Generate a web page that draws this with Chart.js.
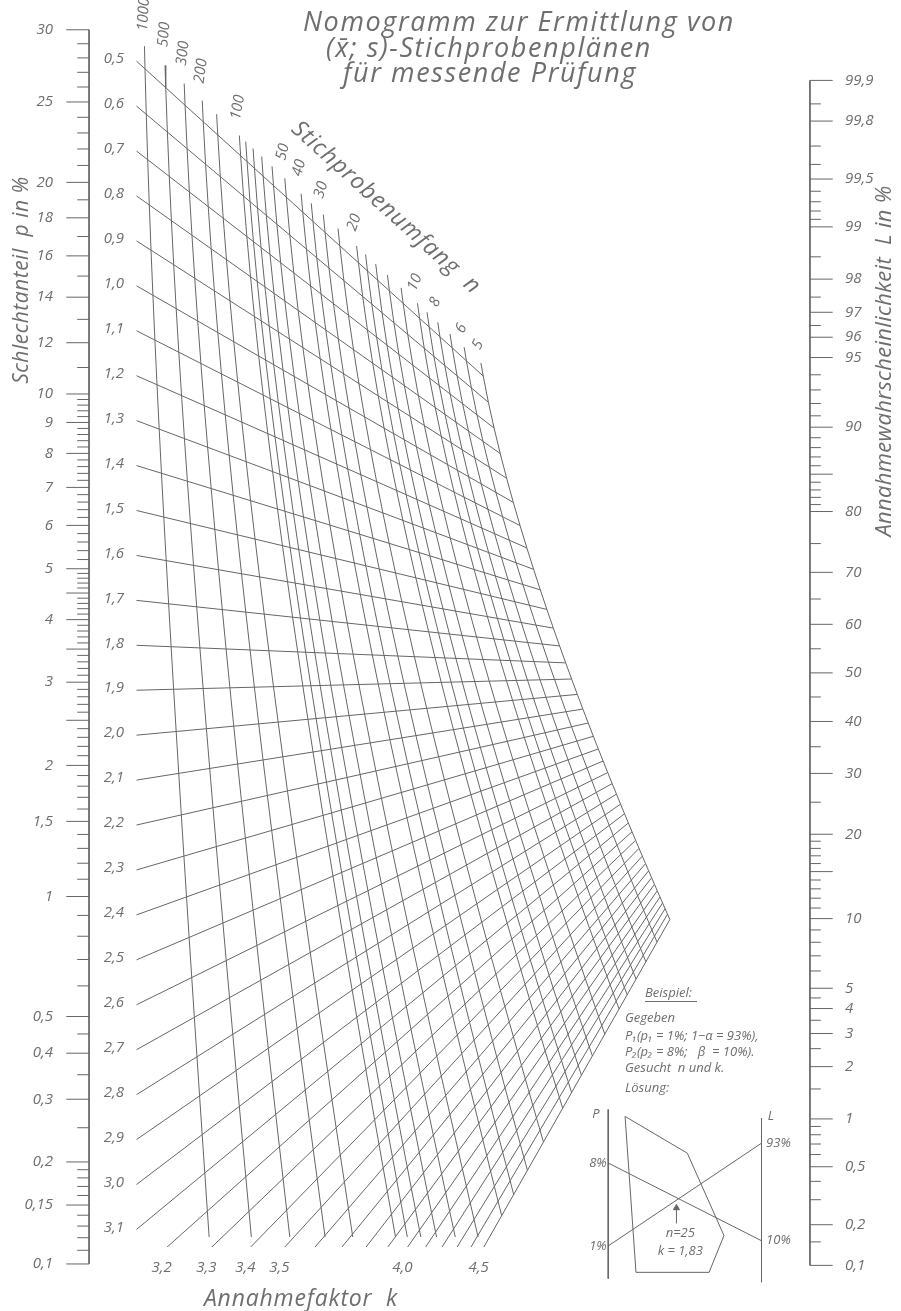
<!DOCTYPE html>
<html>
<head>
<meta charset="utf-8">
<script src="https://cdn.jsdelivr.net/npm/chart.js@4.4.1/dist/chart.umd.min.js"></script>
<style>
  html, body { margin: 0; background: #fff; }
  canvas { display: block; }
</style>
</head>
<body>
<canvas id="nomo" width="901" height="1311"></canvas>
<script>
// Annahmefaktor k (one straight line per value)
const kValues = [0.5, 0.6, 0.7, 0.8, 0.9, 1.0, 1.1, 1.2, 1.3, 1.4, 1.5, 1.6, 1.7, 1.8, 1.9, 2.0,
  2.1, 2.2, 2.3, 2.4, 2.5, 2.6, 2.7, 2.8, 2.9, 3.0, 3.1, 3.2, 3.3, 3.4, 3.5, 3.6, 3.7, 3.8, 3.9,
  4.0, 4.1, 4.2, 4.3, 4.4, 4.5];
const kLeftLabels = [0.5, 0.6, 0.7, 0.8, 0.9, 1.0, 1.1, 1.2, 1.3, 1.4, 1.5, 1.6, 1.7, 1.8, 1.9,
  2.0, 2.1, 2.2, 2.3, 2.4, 2.5, 2.6, 2.7, 2.8, 2.9, 3.0, 3.1];
const kBottomLabels = [3.2, 3.3, 3.4, 3.5, 4.0, 4.5];

// Stichprobenumfang n (one curve per value)
const nValues = [1000, 500, 300, 200, 150, 100, 90, 80, 70, 60, 50, 40, 35, 30, 25, 20, 18, 16,
  14, 12, 10, 9, 8, 7, 6, 5];
const nLabels = [1000, 500, 300, 200, 100, 50, 40, 30, 20, 10, 8, 6, 5];

// Schlechtanteil p in % (left scale)
const pMajor = [30, 25, 20, 18, 16, 14, 12, 10, 9, 8, 7, 6, 5, 4, 3, 2, 1.5, 1, 0.5, 0.4, 0.3,
  0.2, 0.15, 0.1];
const pMedium = [4.5, 3.5, 2.5];
const pMinor = [29, 28, 27, 26, 24, 23, 22, 21, 19, 17, 15, 13, 11,
  9.8, 9.6, 9.4, 9.2, 8.8, 8.6, 8.4, 8.2, 7.8, 7.6, 7.4, 7.2, 6.8, 6.6, 6.4, 6.2,
  5.8, 5.6, 5.4, 5.2, 4.9, 4.8, 4.7, 4.6, 4.4, 4.3, 4.2, 4.1,
  3.9, 3.8, 3.7, 3.6, 3.4, 3.3, 3.2, 3.1, 2.9, 2.8, 2.7, 2.6, 2.4, 2.3, 2.2, 2.1,
  1.9, 1.8, 1.7, 1.6, 1.4, 1.3, 1.2, 1.1, 0.9, 0.8, 0.7, 0.6, 0.45, 0.35, 0.25,
  0.19, 0.18, 0.17, 0.16, 0.14, 0.13, 0.12, 0.11];

// Annahmewahrscheinlichkeit L in % (right scale)
const lMajor = [99.9, 99.8, 99.5, 99, 98, 97, 96, 95, 90, 80, 70, 60, 50, 40, 30, 20, 10, 5, 4,
  3, 2, 1, 0.5, 0.2, 0.1];
const lMedium = [85, 15];
const lMinor = [99.85, 99.7, 99.6, 99.4, 99.3, 99.2, 99.1, 98.5, 97.5, 96.5, 94, 93, 92, 91,
  89, 88, 87, 86, 84, 83, 82, 81, 75, 65, 55, 45, 35, 25, 19, 18, 17, 16, 14, 13, 12, 11,
  9, 8, 7, 6, 4.5, 3.5, 2.5, 1.5, 0.9, 0.8, 0.7, 0.6, 0.4, 0.3, 0.15];

// Beispiel sketch (inset units: P axis x=0, L axis x=100, y 0..100 downwards)
const insetPAxis = [{ x: 0, y: 0 }, { x: 0, y: 98 }];
const insetLAxis = [{ x: 100, y: 5 }, { x: 100, y: 100 }];
const insetLine1 = [{ x: 0, y: 31 }, { x: 100, y: 76 }];     // 8 % -> 10 %
const insetLine2 = [{ x: 0, y: 79 }, { x: 100, y: 19.5 }];   // 1 % -> 93 %
const insetOutline = [{ x: 11, y: 4 }, { x: 51.6, y: 25.3 }, { x: 75.5, y: 73 },
  { x: 65.8, y: 94.3 }, { x: 18.1, y: 94.3 }, { x: 11, y: 4 }];
const insetArrow = [{ x: 44.5, y: 66 }, { x: 44.5, y: 57 }];

// layout of the drawing
const W = 901, H = 1311;
const AXIS_L_PX = 85, AXIS_R_PX = 814;
const SPAN = AXIS_R_PX - AXIS_L_PX;
const PX_PER_U = 484.7;      // left probit scale, px per unit
const TOP_U = 0.47287;       // left-scale value at the top edge
const R_MID = 1.8614;        // L = 50 % expressed on the left scale
const R_RATIO = 0.3986;      // right probit unit / left probit unit
const K_START = 48 / SPAN;   // k lines start left of the n = 1000 curve
const N_TOP = 0.45;          // n curves run a little past k = 0.5
const N_CLIP_PX = 1242, K_CLIP_PX = 1252;

const FONT = "'Open Sans', 'DejaVu Sans', sans-serif";
const INK = '#6e6e6e';
const LINE = '#666666';

// inverse normal distribution (probability paper scales)
function probit(p) {
  const a = [-39.69683028665376, 220.9460984245205, -275.9285104469687, 138.357751867269, -30.66479806614716, 2.506628277459239];
  const b = [-54.47609879822406, 161.5858368580409, -155.6989798598866, 66.80131188771972, -13.28068155288572];
  const c = [-0.007784894002430293, -0.3223964580411365, -2.400758277161838, -2.549732539343734, 4.374664141464968, 2.938163982698783];
  const d = [0.007784695709041462, 0.3224671290700398, 2.445134137142996, 3.754408661907416];
  const lo = 0.02425;
  if (p < lo || p > 1 - lo) {
    const q = Math.sqrt(-2 * Math.log(p < lo ? p : 1 - p));
    const v = (((((c[0] * q + c[1]) * q + c[2]) * q + c[3]) * q + c[4]) * q + c[5]) /
      ((((d[0] * q + d[1]) * q + d[2]) * q + d[3]) * q + 1);
    return p < lo ? v : -v;
  }
  const q = p - 0.5, r = q * q;
  return (((((a[0] * r + a[1]) * r + a[2]) * r + a[3]) * r + a[4]) * r + a[5]) * q /
    (((((b[0] * r + b[1]) * r + b[2]) * r + b[3]) * r + b[4]) * r + 1);
}
const leftU = p => -probit(p / 100);
const rightU = L => R_MID - R_RATIO * probit(L / 100);

// point of the (n, k) net between the two scales
function nomoPoint(n, k) {
  const g = 1 / Math.sqrt(1 / n + k * k / (2 * (n - 1)));
  const t = 1 / (1 + R_RATIO * g);
  return { x: t, y: (1 - t) * k + t * R_MID };
}
const kLineY = (k, t) => (1 - t) * k + t * R_MID;

function ticks(values, toY, x0, x1) {
  const out = [];
  values.forEach(v => {
    const y = toY(v);
    out.push({ x: x0, y }, { x: x1, y }, { x: null, y: null });
  });
  return out;
}

function lineSet(data, extra) {
  return Object.assign({
    data, showLine: true, borderColor: LINE, borderWidth: 1, pointRadius: 0,
    fill: false, tension: 0, clip: false
  }, extra || {});
}

const datasets = [];

// left scale
datasets.push(lineSet([{ x: 0, y: leftU(30) }, { x: 0, y: leftU(0.1) }]));
datasets.push(lineSet(ticks(pMajor.concat(pMedium), leftU, -23 / SPAN, 0)));
datasets.push(lineSet(ticks(pMinor, leftU, -12 / SPAN, 0)));

// right scale
datasets.push(lineSet([{ x: 1, y: rightU(99.9) }, { x: 1, y: rightU(0.1) }]));
datasets.push(lineSet(ticks(lMajor.concat(lMedium), rightU, 1, 1 + 23 / SPAN)));
datasets.push(lineSet(ticks(lMinor, rightU, 1, 1 + 11 / SPAN)));

// k lines
const nMin = nValues[nValues.length - 1];
kValues.forEach(k => {
  datasets.push(lineSet([{ x: K_START, y: kLineY(k, K_START) }, nomoPoint(nMin, k)],
    { clip: { left: false, top: false, right: false, bottom: -(H - K_CLIP_PX) } }));
});

// n curves
nValues.forEach(n => {
  const pts = [nomoPoint(n, N_TOP)].concat(kValues.map(k => nomoPoint(n, k)));
  datasets.push(lineSet(pts,
    { clip: { left: false, top: false, right: false, bottom: -(H - N_CLIP_PX) } }));
});

// example sketch
const inset = { xAxisID: 'x2', yAxisID: 'y2' };
[insetPAxis, insetLAxis, insetLine1, insetLine2, insetOutline, insetArrow].forEach(d => {
  datasets.push(lineSet(d, inset));
});
datasets.push(Object.assign({
  data: [insetArrow[1]], pointStyle: 'triangle', pointRadius: 3.5,
  backgroundColor: LINE, borderColor: LINE, borderWidth: 1, showLine: false, clip: false
}, inset));

const fmt = v => String(v).replace('.', ',');

function text(ctx, s, x, y, size, align, rot, base, spacing) {
  ctx.save();
  ctx.translate(x, y);
  if (rot) ctx.rotate(rot * Math.PI / 180);
  ctx.font = 'italic ' + size + 'px ' + FONT;
  ctx.fillStyle = INK;
  ctx.textAlign = align || 'left';
  ctx.textBaseline = base || 'middle';
  if (spacing) ctx.letterSpacing = spacing;
  ctx.fillText(s, 0, 0);
  ctx.restore();
}

const labelPlugin = {
  id: 'nomoLabels',
  afterDatasetsDraw(chart) {
    const { ctx } = chart;
    const { x, y, x2, y2 } = chart.scales;
    const px = v => x.getPixelForValue(v);
    const py = v => y.getPixelForValue(v);

    // scale labels
    pMajor.forEach(p => text(ctx, fmt(p), 53, py(leftU(p)), 15, 'right'));
    lMajor.forEach(L => text(ctx, fmt(L), 845, py(rightU(L)), 15, 'left'));

    // k labels
    kLeftLabels.forEach(k => {
      text(ctx, fmt(k.toFixed(1)), 124, py(kLineY(k, K_START)) - 2, 15, 'right');
    });
    const clipU = TOP_U + K_CLIP_PX / PX_PER_U;
    kBottomLabels.forEach(k => {
      const t = (k - clipU) / (k - R_MID);
      text(ctx, fmt(k.toFixed(1)), px(t) - 5, 1268, 15, 'center');
    });

    // n labels
    nLabels.forEach(n => {
      const p = nomoPoint(n, 0.38);
      const rot = -86 + (p.x - 0.078) / 0.46 * 24;
      text(ctx, String(n), px(p.x), py(p.y), 15, 'center', rot);
    });

    // titles
    text(ctx, 'Nomogramm zur Ermittlung von', 303, 31, 27, 'left', 0, 'alphabetic', '1.6px');
    text(ctx, '(x\u0304; s)-Stichprobenplänen', 326, 57, 27, 'left', 0, 'alphabetic', '1.6px');
    text(ctx, 'für messende Prüfung', 343, 82, 27, 'left', 0, 'alphabetic', '1.6px');
    text(ctx, 'Stichprobenumfang  n', 386, 208, 23, 'center', 42, 'middle', '1px');
    text(ctx, 'Schlechtanteil  p in %', 22, 280, 21, 'center', -90, 'middle', '0.5px');
    text(ctx, 'Annahmewahrscheinlichkeit  L in %', 885, 361, 22, 'center', -90, 'middle', '0.3px');
    text(ctx, 'Annahmefaktor  k', 301, 1299, 23, 'center', 0, 'middle', '0.8px');

    // example text
    text(ctx, 'Beispiel:', 645, 993, 13, 'left');
    ctx.save();
    ctx.strokeStyle = INK; ctx.lineWidth = 1;
    ctx.beginPath(); ctx.moveTo(645, 1001.5); ctx.lineTo(697, 1001.5); ctx.stroke();
    ctx.restore();
    text(ctx, 'Gegeben', 625, 1018, 13, 'left');
    text(ctx, 'P\u2081(p\u2081 = 1%; 1\u2212\u03b1 = 93%),', 625, 1036, 13, 'left');
    text(ctx, 'P\u2082(p\u2082 = 8%;   \u03b2  = 10%).', 625, 1052, 13, 'left');
    text(ctx, 'Gesucht  n und k.', 625, 1068, 13, 'left');
    text(ctx, 'Lösung:', 625, 1088, 13, 'left');

    const ix = v => x2.getPixelForValue(v);
    const iy = v => y2.getPixelForValue(v);
    text(ctx, 'P', ix(-8), iy(3), 13, 'center');
    text(ctx, 'L', ix(104), iy(4), 13, 'left');
    text(ctx, '8%', ix(-1), iy(31), 13, 'right');
    text(ctx, '1%', ix(-1), iy(79), 13, 'right');
    text(ctx, '93%', ix(103), iy(19.5), 13, 'left');
    text(ctx, '10%', ix(103), iy(76), 13, 'left');
    text(ctx, 'n=25', ix(47), iy(71.5), 13, 'center');
    text(ctx, 'k = 1,83', ix(47), iy(82), 13, 'center');
  }
};

new Chart(document.getElementById('nomo'), {
  type: 'scatter',
  data: { datasets },
  options: {
    responsive: false,
    animation: false,
    devicePixelRatio: 1,
    events: [],
    layout: { padding: 0 },
    plugins: { legend: { display: false }, tooltip: { enabled: false } },
    scales: {
      x: { type: 'linear', display: false, min: -AXIS_L_PX / SPAN, max: (W - AXIS_L_PX) / SPAN },
      y: { type: 'linear', display: false, reverse: true, min: TOP_U, max: TOP_U + H / PX_PER_U },
      x2: { type: 'linear', axis: 'x', display: false, min: -610 / 1.55, max: (W - 610) / 1.55 },
      y2: { type: 'linear', axis: 'y', display: false, reverse: true, min: -1113 / 1.74, max: (H - 1113) / 1.74 }
    }
  },
  plugins: [labelPlugin]
});
</script>
</body>
</html>
